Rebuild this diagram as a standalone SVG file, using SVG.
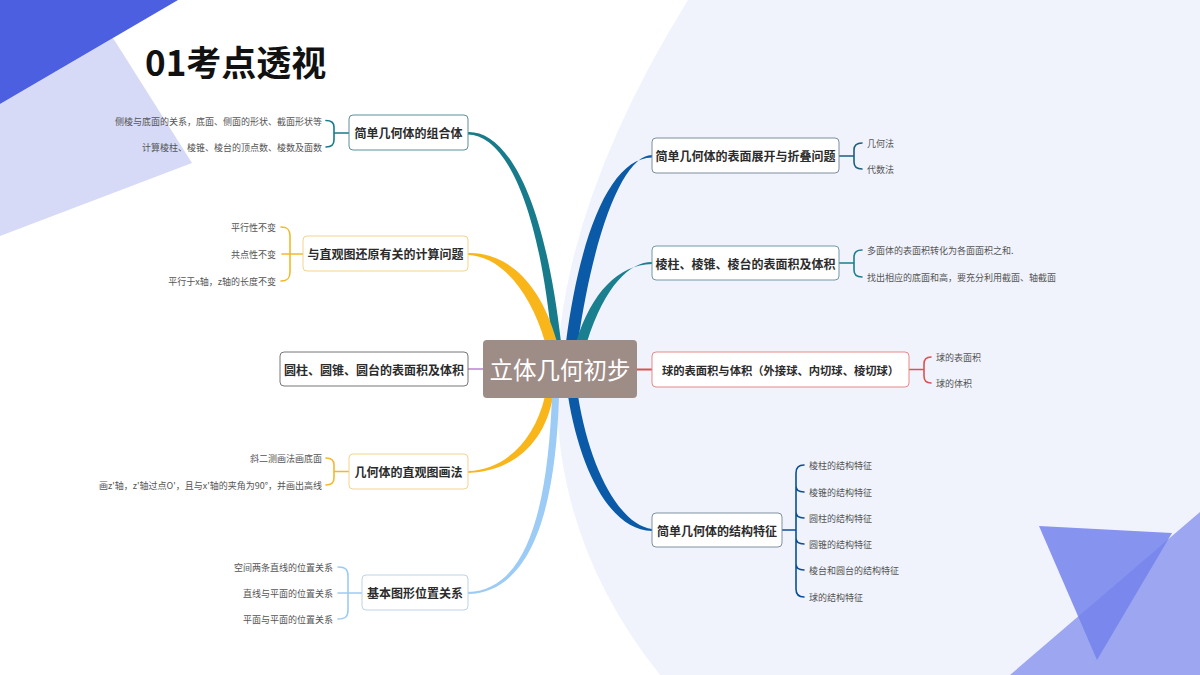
<svg xmlns="http://www.w3.org/2000/svg" width="1200" height="675" viewBox="0 0 1200 675">
<style>
text{font-family:"Noto Sans CJK SC","Noto Sans",sans-serif;dominant-baseline:central}
.nt{font-size:12px;font-weight:bold;fill:#2b2b2b;text-anchor:middle}
.st{font-size:9px;fill:#555}
.sr{text-anchor:end}
.box{fill:#fff;stroke-width:1}
.br{fill:none;stroke-width:1.6;stroke-linecap:round}
</style>
<rect width="1200" height="675" fill="#fff"/>
<g id="background">
<path d="M688,0 Q440,400 660,675 L1200,675 L1200,0 Z" fill="#f0f3fc"/>
<polygon points="0,104 113,38 192,163 0,236" fill="#d6daf6"/>
<polygon points="0,0 178,0 0,104" fill="#4b5fe0"/>
<polygon points="1010,675 1200,512 1200,675" fill="#9ca6f1"/>
<polygon points="1039,526 1172,533 1097,660" fill="#7482ec" fill-opacity="0.85"/>
</g>
<text id="title" x="145" y="60" style="font-size:35px;font-weight:bold;fill:#111">01考点透视</text>
<g id="connectors">
<path d="M468,132 C503,131 543,185 561,342 L552,342 C537,188 500,135 468,134.5 Z" fill="#177b8b"/>
<path d="M468,253 C505,252 540,280 557,342 L545,342 C530,290 500,256 468,255 Z" fill="#f8b61a"/>
<path d="M652,155 C625,155 595,225 578,342 L566,342 C580,235 610,158 652,157.5 Z" fill="#0b5aa8"/>
<path d="M652,262 C630,262 605,285 587,342 L576,342 C592,292 618,265 652,264 Z" fill="#1a7f8f"/>
<path d="M545,396 C535,440 505,470 468,471 L468,473 C510,472 545,445 553,396 Z" fill="#f8b61a"/>
<path d="M552,396 C548,500 530,590 468,592 L468,594 C535,592 556,500 559,396 Z" fill="#9ccbf6"/>
<path d="M568,396 C580,470 610,530 652,531 L652,529 C620,525 590,470 578,396 Z" fill="#0b5aa8"/>
<line x1="466" y1="369" x2="485" y2="369" stroke="#c9a3dc" stroke-width="2"/>
<line x1="635" y1="369.5" x2="654" y2="369.5" stroke="#d9534f" stroke-width="2"/>
<path class="br" stroke="#177b8b" d="M326,120.5 C332,120.5 334,123 334,127 L334,140 C334,144 332,147 326,147 M334,133 L349,133"/>
<path class="br" stroke="#f3b92a" d="M281,227 C288,227 290,230 290,236 L290,272 C290,278 288,281 281,281 M282,254 L303,254"/>
<path class="br" stroke="#f3b92a" d="M326,458 C332,458 334,461 334,465 L334,478 C334,482 332,485 326,485 M334,471.5 L349,471.5"/>
<path class="br" stroke="#9ccbf6" d="M338,567 C346,567 348,570 348,576 L348,610 C348,616 346,619 338,619 M338,593 L362,593"/>
<path class="br" stroke="#1b5f7c" d="M839,156 L854,156 M862,143 C856,143 854,146 854,150 L854,162 C854,166 856,169 862,169"/>
<path class="br" stroke="#1a7f8f" d="M839,263 L854,263 M862,250 C856,250 854,253 854,257 L854,270 C854,274 856,277 862,277"/>
<path class="br" stroke="#d9534f" d="M909,369.5 L924,369.5 M931,357 C926,357 924,360 924,364 L924,376 C924,380 926,383 931,383"/>
<path class="br" stroke="#0b4f96" d="M782,530 L796,530 M804,465 C799,465 796,468 796,473 L796,589 C796,594 799,597 804,597 M796,486 C796,490 799,492 804,492 M796,512 C796,516 799,518 804,518 M796,538 C796,542 799,544 804,544 M796,564 C796,568 799,570 804,570"/>
</g>
<g id="center">
<rect x="483" y="340" width="154" height="58" rx="4" fill="#9e8d87"/>
<text x="560" y="369" style="font-size:23.5px;fill:#fff;text-anchor:middle">立体几何初步</text>
</g>
<g id="L1">
<rect class="box" x="349" y="115" width="119" height="35" rx="4" stroke="#5d8f9b"/>
<text class="nt" x="408.5" y="132.5">简单几何体的组合体</text>
<text class="st sr" x="322" y="121">侧棱与底面的关系，底面、侧面的形状、截面形状等</text>
<text class="st sr" x="322" y="147">计算棱柱、棱锥、棱台的顶点数、棱数及面数</text>
</g>
<g id="L2">
<rect class="box" x="303" y="236" width="165" height="35" rx="4" stroke="#f2d58a"/>
<text class="nt" x="385.5" y="253.5">与直观图还原有关的计算问题</text>
<text class="st sr" x="276" y="227">平行性不变</text>
<text class="st sr" x="276" y="254">共点性不变</text>
<text class="st sr" x="276" y="281">平行于x轴，z轴的长度不变</text>
</g>
<g id="L3">
<rect class="box" x="280" y="352" width="188" height="34" rx="4" stroke="#777"/>
<text class="nt" x="374" y="369">圆柱、圆锥、圆台的表面积及体积</text>
</g>
<g id="L4">
<rect class="box" x="349" y="454" width="119" height="35" rx="4" stroke="#f2d58a"/>
<text class="nt" x="408.5" y="471.5">几何体的直观图画法</text>
<text class="st sr" x="322" y="458">斜二测画法画底面</text>
<text class="st sr" x="322" y="485">画z'轴，z'轴过点O'，且与x'轴的夹角为90°，并画出高线</text>
</g>
<g id="L5">
<rect class="box" x="362" y="575" width="106" height="35" rx="4" stroke="#bcd3e8"/>
<text class="nt" x="415" y="592.5">基本图形位置关系</text>
<text class="st sr" x="333" y="567">空间两条直线的位置关系</text>
<text class="st sr" x="333" y="593">直线与平面的位置关系</text>
<text class="st sr" x="333" y="619">平面与平面的位置关系</text>
</g>
<g id="R1">
<rect class="box" x="652" y="138" width="187" height="35" rx="4" stroke="#7d8e9c"/>
<text class="nt" x="745.5" y="155.5">简单几何体的表面展开与折叠问题</text>
<text class="st" x="867" y="143">几何法</text>
<text class="st" x="867" y="169">代数法</text>
</g>
<g id="R2">
<rect class="box" x="652" y="246" width="187" height="34" rx="4" stroke="#6f9aa6"/>
<text class="nt" x="745.5" y="263">棱柱、棱锥、棱台的表面积及体积</text>
<text class="st" x="867" y="250">多面体的表面积转化为各面面积之和.</text>
<text class="st" x="867" y="277">找出相应的底面和高，要充分利用截面、轴截面</text>
</g>
<g id="R3">
<rect class="box" x="652" y="352" width="257" height="35" rx="4" stroke="#e58a8a"/>
<text class="nt" x="780.5" y="369.5" style="font-size:11.3px">球的表面积与体积（外接球、内切球、棱切球）</text>
<text class="st" x="936" y="357">球的表面积</text>
<text class="st" x="936" y="383">球的体积</text>
</g>
<g id="R4">
<rect class="box" x="652" y="513" width="130" height="34" rx="4" stroke="#8090a0"/>
<text class="nt" x="717" y="530">简单几何体的结构特征</text>
<text class="st" x="809" y="465">棱柱的结构特征</text>
<text class="st" x="809" y="492">棱锥的结构特征</text>
<text class="st" x="809" y="518">圆柱的结构特征</text>
<text class="st" x="809" y="544">圆锥的结构特征</text>
<text class="st" x="809" y="570">棱台和圆台的结构特征</text>
<text class="st" x="809" y="597">球的结构特征</text>
</g>
</svg>
